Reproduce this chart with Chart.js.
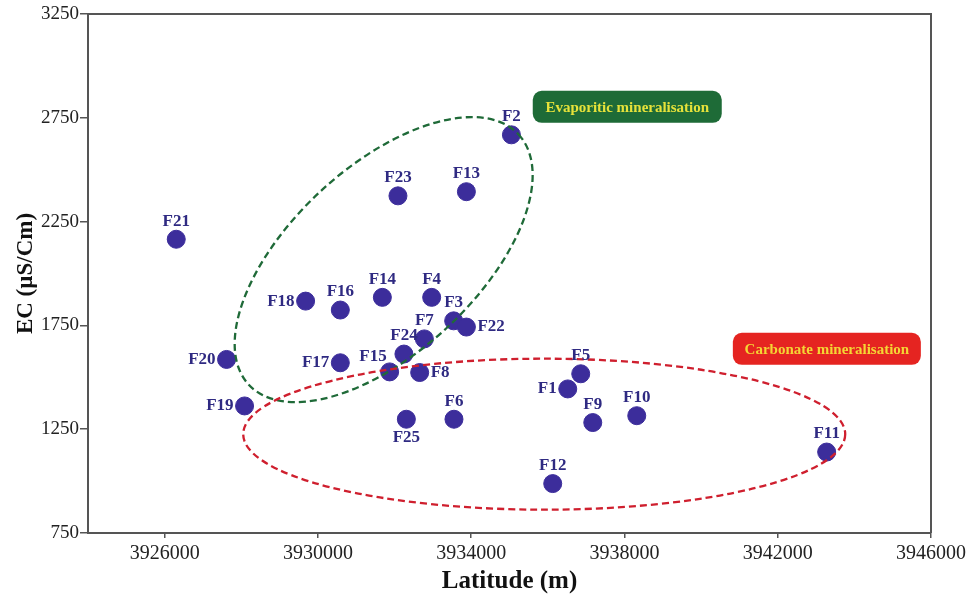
<!DOCTYPE html>
<html>
<head>
<meta charset="utf-8">
<script src="https://cdn.jsdelivr.net/npm/chart.js@4/dist/chart.umd.min.js"></script>
<style>
  html, body { margin: 0; padding: 0; background: #fff; }
  #wrap { width: 973px; height: 598px; }
</style>
</head>
<body>
<div id="wrap"><canvas id="ecLatitudeChart" width="973" height="598"></canvas></div>
<script>
// wells
const wellNames = ['F1', 'F2', 'F3', 'F4', 'F5', 'F6', 'F7', 'F8', 'F9', 'F10', 'F11', 'F12', 'F13',
  'F14', 'F15', 'F16', 'F17', 'F18', 'F19', 'F20', 'F21', 'F22', 'F23', 'F24', 'F25']
const latitudes = [3936520, 3935050, 3933543, 3932969, 3936859, 3933551, 3932778, 3932656, 3937173,
  3938321, 3943277, 3936128, 3933875, 3931682, 3931872, 3930585, 3930585, 3929679, 3928086, 3927616,
  3926303, 3933875, 3932089, 3932245, 3932308]
const ecValues = [1444, 2668, 1772, 1885, 1517, 1298, 1685, 1523, 1282, 1315, 1140, 988, 2394,
  1885, 1526, 1824, 1570, 1867, 1362, 1586, 2165, 1742, 2374, 1612, 1298]
// where each name sits around its dot
const labelSides = ['left', 'top', 'top', 'top', 'top', 'top', 'top', 'right', 'top', 'top', 'top', 'top', 'top',
  'top', 'topleft', 'top', 'left', 'left', 'left', 'left', 'top', 'right', 'top', 'top', 'bottom']

const xTicks = [3926000, 3930000, 3934000, 3938000, 3942000, 3946000]
const yTicks = [750, 1250, 1750, 2250, 2750, 3250]

const groups = [
  { name: 'Evaporitic mineralisation', cx: 3931716, cy: 2067, rx: 184, ry: 93, rot: -42.85,
    line: '#1f6a38', boxX: 3938073, boxY: 2803, boxW: 189, fill: '#1e6b37', text: '#e6e23a' },
  { name: 'Carbonate mineralisation', cx: 3935906, cy: 1226, rx: 301, ry: 75.5, rot: 0,
    line: '#cf1f2e', boxX: 3943282, boxY: 1637, boxW: 188, fill: '#e52421', text: '#f4d634' }
]

const dotColor = '#3c2d9b'
const nameColor = '#2f2a82'
const axisColor = '#555555'

function roundRect (ctx, x, y, w, h, r) {
  ctx.beginPath()
  ctx.moveTo(x + r, y)
  ctx.arcTo(x + w, y, x + w, y + h, r)
  ctx.arcTo(x + w, y + h, x, y + h, r)
  ctx.arcTo(x, y + h, x, y, r)
  ctx.arcTo(x, y, x + w, y, r)
  ctx.closePath()
}

const overlay = {
  id: 'overlay',
  afterDatasetsDraw (chart) {
    const { ctx, chartArea: a, scales: { x, y } } = chart
    ctx.save()

    // top and right frame
    ctx.strokeStyle = axisColor
    ctx.lineWidth = 2
    ctx.beginPath()
    ctx.moveTo(a.left, a.top)
    ctx.lineTo(a.right, a.top)
    ctx.lineTo(a.right, a.bottom)
    ctx.stroke()

    // dashed group outlines
    groups.forEach(g => {
      ctx.beginPath()
      ctx.setLineDash([7, 4])
      ctx.strokeStyle = g.line
      ctx.lineWidth = 2.3
      ctx.ellipse(x.getPixelForValue(g.cx), y.getPixelForValue(g.cy), g.rx, g.ry,
        g.rot * Math.PI / 180, 0, Math.PI * 2)
      ctx.stroke()
    })
    ctx.setLineDash([])

    // group name boxes
    groups.forEach(g => {
      const bx = x.getPixelForValue(g.boxX)
      const by = y.getPixelForValue(g.boxY)
      roundRect(ctx, bx - g.boxW / 2, by - 16, g.boxW, 32, 9)
      ctx.fillStyle = g.fill
      ctx.fill()
      ctx.font = 'bold 15px "Liberation Serif", serif'
      ctx.fillStyle = g.text
      ctx.textAlign = 'center'
      ctx.textBaseline = 'middle'
      ctx.fillText(g.name, bx, by + 1)
    })

    // well names
    ctx.font = 'bold 17px "Liberation Serif", serif'
    ctx.fillStyle = nameColor
    ctx.textBaseline = 'middle'
    const meta = chart.getDatasetMeta(0)
    meta.data.forEach((pt, i) => {
      const side = labelSides[i]
      let tx = pt.x
      let ty = pt.y
      if (side === 'top') { ctx.textAlign = 'center'; ty -= 18 }
      if (side === 'bottom') { ctx.textAlign = 'center'; ty += 18 }
      if (side === 'left') { ctx.textAlign = 'right'; tx -= 11 }
      if (side === 'right') { ctx.textAlign = 'left'; tx += 11 }
      if (side === 'topleft') { ctx.textAlign = 'right'; tx -= 3; ty -= 15 }
      ctx.fillText(wellNames[i], tx, ty)
    })
    ctx.restore()
  }
}

new Chart(document.getElementById('ecLatitudeChart'), {
  type: 'scatter',
  data: {
    labels: wellNames,
    datasets: [
      {
        label: 'EC',
        data: latitudes.map((lat, i) => ({ x: lat, y: ecValues[i] })),
        backgroundColor: dotColor,
        borderColor: dotColor,
        pointRadius: 9,
        pointHoverRadius: 9
      }
    ]
  },
  options: {
    responsive: false,
    animation: false,
    devicePixelRatio: 1,
    layout: { padding: { top: 14, right: 42, left: 0, bottom: 0 } },
    plugins: {
      legend: { display: false },
      tooltip: { enabled: false }
    },
    scales: {
      x: {
        type: 'linear',
        min: 3924000,
        max: 3946000,
        afterBuildTicks: scale => { scale.ticks = xTicks.map(v => ({ value: v })) },
        afterFit: scale => { scale.height = 65 },
        border: { color: axisColor, width: 2 },
        grid: { drawOnChartArea: false, drawTicks: true, tickLength: 5, color: axisColor, lineWidth: 1.5 },
        ticks: {
          padding: 4,
          color: '#222',
          font: { family: '"Liberation Serif", serif', size: 20 },
          maxRotation: 0,
          callback: v => String(v)
        },
        title: {
          display: true,
          text: 'Latitude (m)',
          color: '#111',
          font: { family: '"Liberation Serif", serif', size: 25, weight: 'bold' },
          padding: { top: 0, bottom: 1 }
        }
      },
      y: {
        type: 'linear',
        min: 750,
        max: 3250,
        afterBuildTicks: scale => { scale.ticks = yTicks.map(v => ({ value: v })) },
        afterFit: scale => { scale.width = 88 },
        border: { color: axisColor, width: 2 },
        grid: { drawOnChartArea: false, drawTicks: true, tickLength: 8, color: axisColor, lineWidth: 1.5 },
        ticks: {
          padding: 1,
          color: '#222',
          font: { family: '"Liberation Serif", serif', size: 19 },
          callback: v => String(v)
        },
        title: {
          display: true,
          text: 'EC (µS/Cm)',
          color: '#111',
          font: { family: '"Liberation Serif", serif', size: 23, weight: 'bold' },
          padding: { top: 12, bottom: 0 }
        }
      }
    }
  },
  plugins: [overlay]
})
</script>
</body>
</html>
